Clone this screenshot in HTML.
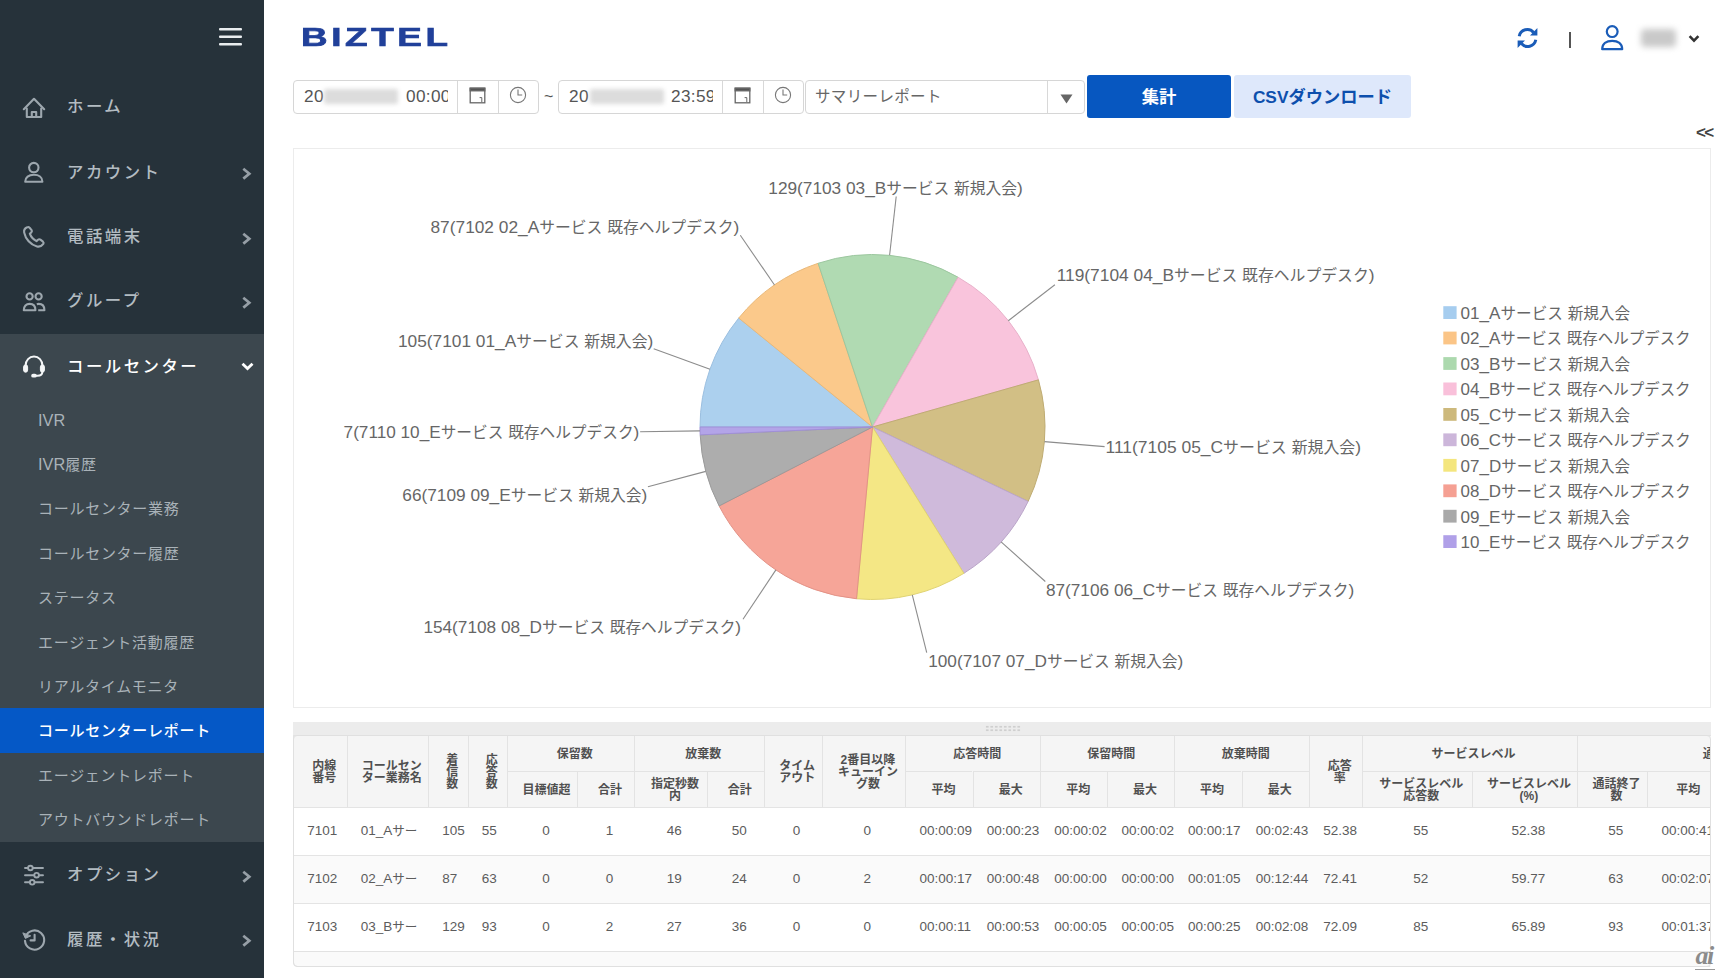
<!DOCTYPE html>
<html lang="ja">
<head>
<meta charset="utf-8">
<title>BIZTEL</title>
<style>
*{box-sizing:border-box;margin:0;padding:0}
html,body{width:1724px;height:978px;overflow:hidden;background:#fff}
body{font-family:"Liberation Sans","Noto Sans CJK JP",sans-serif;color:#555;position:relative}
.abs{position:absolute}
/* ---------- sidebar ---------- */
#side{position:absolute;left:0;top:0;width:264px;height:978px;background:#26323a}
#side .sub-bg{position:absolute;left:0;top:333.6px;width:264px;height:508px;background:#3c474e}
#side .active-bg{position:absolute;left:0;top:708px;width:264px;height:44.6px;background:#0558c6}
.mi{position:absolute;left:67px;height:30px;line-height:30px;font-size:16.4px;color:#b3bcc2;letter-spacing:2.5px;white-space:nowrap;font-weight:500;margin-top:2px}
.mi.on{color:#fff}
.si{position:absolute;left:38px;height:30px;line-height:30px;font-size:15px;color:#a9b2b8;white-space:nowrap;letter-spacing:.72px;margin-top:2px}
.si b{font-weight:inherit;font-size:16.3px;letter-spacing:0}
.si.on{color:#fff;font-weight:500}
.ico{position:absolute;left:22px;width:24px;height:24px}
.chev{position:absolute;left:240px;width:12px;height:13px;overflow:visible}
/* ---------- header ---------- */
#logo{position:absolute;left:300.5px;top:20.7px;height:32px;line-height:32px;font-size:26.3px;font-weight:700;color:#21409a;-webkit-text-stroke:.7px #21409a;letter-spacing:2.6px;transform-origin:0 50%;transform:scaleX(1.4);white-space:nowrap}
/* ---------- toolbar ---------- */
.grp{position:absolute;top:80px;height:34px;border:1px solid #d6d6d6;border-radius:4px;background:#fff}
.grp .sep{position:absolute;top:0;width:1px;height:32px;background:#d8d8d8}
.txt{position:absolute;top:0;height:32px;line-height:31.6px;font-size:17.2px;letter-spacing:.35px;color:#555;white-space:nowrap}
.blur{position:absolute;top:8px;height:15px;background:#dcdcdc;filter:blur(2px);border-radius:2px}
.clip{overflow:hidden}
.btn{position:absolute;top:75px;height:43px;line-height:44.6px;text-align:center;font-size:17.3px;font-weight:700;border-radius:3px;white-space:nowrap}

/* ---------- grid ---------- */
#grid{position:absolute;left:293px;top:722px;width:1418px;height:246px;overflow:hidden;border-radius:0 0 4px 4px}
#grid .split{position:absolute;left:0;top:0;width:1418px;height:13px;background:#ececec}
#grid .split i{position:absolute;left:692px;top:3px;width:36px;height:7px;background-image:radial-gradient(circle,#cfcfcf 1px,transparent 1.3px);background-size:4.5px 3.5px}
#grid .hbg{position:absolute;left:0;width:1418px;background:#f5f5f5;border-left:1px solid #e2e2e2}
.hc{position:absolute;display:flex;align-items:center;justify-content:center;padding:0 7px 0 15px;border-left:1px solid #e3e3e3;border-top:1px solid #e3e3e3;font-size:12px;line-height:12px;font-weight:700;color:#505050;text-align:center;white-space:nowrap;overflow:hidden}
.hc span{display:block}
.row{position:absolute;left:0;width:1418px;background:#fff;border-top:1px solid #e4e4e4;border-left:1px solid #e2e2e2}
.row.alt{background:#fafafa}
.dc{position:absolute;display:flex;align-items:center;padding:0 6.4px 0 14.2px;font-size:13.5px;line-height:16px;color:#5c5c5c;white-space:nowrap;overflow:hidden}
.dc span{display:block;flex:1 1 0;min-width:0;text-align:center}
.dc.l span{text-align:left}
.dc i{font-style:normal;font-size:12.6px}
.foot{position:absolute;left:0;width:1418px;background:#fafafa;border:1px solid #e2e2e2;border-right:0;border-radius:0 0 0 5px}
#grid .frame{position:absolute;left:0;top:12.8px;width:1418px;height:232.6px;border:1px solid #e0e0e0;border-radius:4px;pointer-events:none}
</style>
</head>
<body>
<div id="side">
  <div class="sub-bg"></div>
  <div class="active-bg"></div>
  <!-- hamburger -->
  <svg class="abs" style="left:219px;top:28px" width="23" height="18" viewBox="0 0 23 18"><g fill="#e9edef"><rect x="0" y="0" width="23" height="2.6" rx="1"/><rect x="0" y="7.5" width="23" height="2.6" rx="1"/><rect x="0" y="15" width="23" height="2.6" rx="1"/></g></svg>

  <!-- home -->
  <svg class="abs" style="left:22px;top:96px" width="24" height="24" viewBox="0 0 24 24" fill="none" stroke="#9da7ae" stroke-width="2.1" stroke-linejoin="round" stroke-linecap="round"><path d="M1.8 13.2L12 2.8l10.2 10.4"/><path d="M4.8 12.6v8.4h14.4v-8.4"/><path d="M9.8 21v-5h4.4v5"/></svg>
  <!-- user -->
  <svg class="abs" style="left:22px;top:160px" width="24" height="24" viewBox="0 0 24 24" fill="none" stroke="#9da7ae" stroke-width="2.1" stroke-linejoin="round"><circle cx="11.8" cy="7.6" r="4.7"/><path d="M3.2 21.8c0-4.6 3.6-7 8.6-7s8.6 2.4 8.6 7z"/></svg>
  <!-- phone -->
  <svg class="abs" style="left:22px;top:225px" width="24" height="24" viewBox="0 0 24 24" fill="none" stroke="#9da7ae" stroke-width="2.1" stroke-linejoin="round" stroke-linecap="round"><path d="M5.2 2.3C3 3.2 1.7 5 2.2 7.600c1.300 6.400 6.300 12.200 12.800 13.900 2.600.600 4.700-.400 6.300-2.600.500-.800.400-1.600-.300-2.200l-2.600-2c-.800-.600-1.700-.500-2.400.100l-1.500 1.300c-3.200-1.500-5.500-4.100-6.700-7.400L9.300 7.400c.700-.700.800-1.500.300-2.300L7.600 2.800c-.6-.8-1.500-1-2.400-.5z"/></svg>
  <!-- group -->
  <svg class="abs" style="left:22px;top:290px" width="24" height="24" viewBox="0 0 24 24" fill="none" stroke="#9da7ae" stroke-width="2.1" stroke-linejoin="round"><circle cx="7.600" cy="6.400" r="3.100"/><circle cx="16.600" cy="6.400" r="3.100"/><path d="M1.800 20.200c0-4 2.400-6.300 5.800-6.300s5.800 2.300 5.800 6.300z"/><path d="M14.800 14.200c.6-.2 1.200-.3 1.800-.3 3.400 0 5.800 2.300 5.800 6.300h-6.200"/></svg>
  <!-- headset -->
  <svg class="abs" style="left:22px;top:354px" width="24" height="25" viewBox="0 0 24 25" fill="none" stroke="#f4f6f7" stroke-width="2" stroke-linecap="round" stroke-linejoin="round"><path d="M3.600 14V11.500C3.600 6.300 7.300 2.600 12 2.600s8.400 3.700 8.400 8.900V14"/><rect x="1.600" y="10.800" width="4" height="7.400" rx="2" fill="#f4f6f7" stroke-width="1"/><rect x="18.400" y="10.800" width="4" height="7.400" rx="2" fill="#f4f6f7" stroke-width="1"/><path d="M20.400 17.500c0 2.600-2 4.300-5 4.300h-2.400"/><rect x="9.200" y="19.800" width="5.600" height="3.800" rx="1.900" fill="#f4f6f7" stroke="none"/></svg>
  <!-- sliders -->
  <svg class="abs" style="left:22px;top:863px" width="24" height="24" viewBox="0 0 24 24" fill="none" stroke="#9da7ae" stroke-width="1.9" stroke-linecap="round"><path d="M3 5H21M3 12.200H21M3 19.300H21"/><g fill="#26323a"><circle cx="8.400" cy="5" r="2.300"/><circle cx="14.600" cy="12.200" r="2.300"/><circle cx="10.200" cy="19.300" r="2.300"/></g></svg>
  <!-- history -->
  <svg class="abs" style="left:22px;top:928px" width="24" height="24" viewBox="0 0 24 24" fill="none" stroke="#9da7ae" stroke-width="2.1" stroke-linecap="round" stroke-linejoin="round"><path d="M3.600 8.600A9.600 9.600 0 1 1 3 12.900"/><path d="M1 5.200L3.400 10.400 8.400 8z" fill="#9da7ae" stroke-width="1"/><path d="M12.600 6.800v5.600h-4"/></svg>

  <div class="mi" style="top:89.3px">ホーム</div>
  <div class="mi" style="top:154.6px">アカウント</div>
  <div class="mi" style="top:218.6px">電話端末</div>
  <div class="mi" style="top:283.2px">グループ</div>
  <div class="mi on" style="top:349px">コールセンター</div>
  <svg class="chev" style="top:167px" viewBox="0 0 12 13"><path d="M3.3 1.800L9.300 6.700 3.300 11.600" fill="none" stroke="#969fa6" stroke-width="2.700"/></svg>
  <svg class="chev" style="top:232px" viewBox="0 0 12 13"><path d="M3.3 1.800L9.300 6.700 3.300 11.600" fill="none" stroke="#969fa6" stroke-width="2.700"/></svg>
  <svg class="chev" style="top:296px" viewBox="0 0 12 13"><path d="M3.3 1.800L9.300 6.700 3.300 11.600" fill="none" stroke="#969fa6" stroke-width="2.700"/></svg>
  <svg class="chev" style="top:360px;left:241px;width:13px" viewBox="0 0 13 12"><path d="M1.500 3.200L6.500 8 11.500 3.200" fill="none" stroke="#fff" stroke-width="2.800"/></svg>
  <svg class="chev" style="top:870px" viewBox="0 0 12 13"><path d="M3.3 1.800L9.300 6.700 3.300 11.600" fill="none" stroke="#969fa6" stroke-width="2.700"/></svg>
  <svg class="chev" style="top:934px" viewBox="0 0 12 13"><path d="M3.3 1.800L9.300 6.700 3.300 11.600" fill="none" stroke="#969fa6" stroke-width="2.700"/></svg>

  <div class="si" style="top:402.8px"><b>IVR</b></div>
  <div class="si" style="top:446.6px"><b>IVR</b>履歴</div>
  <div class="si" style="top:492px">コールセンター業務</div>
  <div class="si" style="top:537px">コールセンター履歴</div>
  <div class="si" style="top:581px">ステータス</div>
  <div class="si" style="top:626px">エージェント活動履歴</div>
  <div class="si" style="top:670px">リアルタイムモニタ</div>
  <div class="si on" style="top:714px">コールセンターレポート</div>
  <div class="si" style="top:759px">エージェントレポート</div>
  <div class="si" style="top:803px">アウトバウンドレポート</div>
  <div class="mi" style="top:856.8px">オプション</div>
  <div class="mi" style="top:921.8px">履歴・状況</div>
</div>

<div id="logo">BIZTEL</div>

<!-- header right -->
<svg class="abs" style="left:1516px;top:27px" width="23" height="22" viewBox="0 0 23 22" fill="none" stroke="#1a5cb8" stroke-width="3" stroke-linecap="butt"><path d="M3.200 9.200A8.300 8.300 0 0 1 17.600 5.400"/><path d="M19.800 12.800A8.300 8.300 0 0 1 5.400 16.600"/><path d="M21.400 1v7.400h-7.400z" fill="#1a5cb8" stroke="none"/><path d="M1.600 21v-7.400h7.400z" fill="#1a5cb8" stroke="none"/></svg>
<div class="abs" style="left:1569px;top:32px;width:1.500px;height:15.500px;background:#555"></div>
<svg class="abs" style="left:1600px;top:24px" width="25" height="27" viewBox="0 0 25 27" fill="none" stroke="#1a5cb8" stroke-width="2.200" stroke-linejoin="round"><circle cx="12.200" cy="7.600" r="5.400"/><path d="M2.200 25.200c0-5.600 4.200-8.400 10-8.400s10 2.800 10 8.400z"/></svg>
<div class="abs" style="left:1641px;top:29px;width:35px;height:18px;background:#c9c9c9;border-radius:4px;filter:blur(3px)"></div>
<svg class="abs" style="left:1688px;top:34px" width="12" height="10" viewBox="0 0 12 10"><path d="M1.600 2.200L6 6.600 10.400 2.200" fill="none" stroke="#333" stroke-width="2.600"/></svg>

<!-- toolbar -->
<div class="grp" style="left:293px;width:246px">
  <div class="txt" style="left:10px">20</div><div class="blur" style="left:30px;width:74px"></div><div class="txt clip" style="left:112px;width:41.5px">00:00</div>
  <div class="sep" style="left:163px"></div><div class="sep" style="left:204px"></div>
  <svg class="abs" style="left:175px;top:6px" width="17" height="17" viewBox="0 0 17 17" fill="none" stroke="#666" stroke-width="1.300"><rect x="1.200" y="1.200" width="14.600" height="14.600"/><rect x="1.200" y="1.200" width="14.600" height="2.600" fill="#555"/><path d="M10.600 10.600h2.200v4.400" stroke-width="1"/></svg>
  <svg class="abs" style="left:215px;top:5px" width="18" height="18" viewBox="0 0 18 18" fill="none" stroke="#777" stroke-width="1.100"><circle cx="9" cy="9" r="7.600"/><path d="M9 3.600V9h4.200"/></svg>
</div>
<div class="txt abs" style="left:544px;top:81.2px;font-size:16px">~</div>
<div class="grp" style="left:558px;width:246px">
  <div class="txt" style="left:10px">20</div><div class="blur" style="left:31px;width:74px"></div><div class="txt clip" style="left:112px;width:41.5px">23:59</div>
  <div class="sep" style="left:163px"></div><div class="sep" style="left:204px"></div>
  <svg class="abs" style="left:175px;top:6px" width="17" height="17" viewBox="0 0 17 17" fill="none" stroke="#666" stroke-width="1.300"><rect x="1.200" y="1.200" width="14.600" height="14.600"/><rect x="1.200" y="1.200" width="14.600" height="2.600" fill="#555"/><path d="M10.600 10.600h2.200v4.400" stroke-width="1"/></svg>
  <svg class="abs" style="left:215px;top:5px" width="18" height="18" viewBox="0 0 18 18" fill="none" stroke="#777" stroke-width="1.100"><circle cx="9" cy="9" r="7.600"/><path d="M9 3.600V9h4.200"/></svg>
</div>
<div class="grp" style="left:805px;width:280px">
  <div class="txt" style="left:9px;font-size:15.500px;color:#666">サマリーレポート</div>
  <div class="sep" style="left:241px"></div>
  <svg class="abs" style="left:254px;top:13px" width="13" height="10" viewBox="0 0 13 10"><path d="M0.500 0.500h12L6.500 9.500z" fill="#666"/></svg>
</div>
<div class="btn" style="left:1087px;width:144px;background:#0757c0;color:#fff">集計</div>
<div class="btn" style="left:1234px;width:177px;background:#dee8fb;color:#0d4fad">CSVダウンロード</div>
<div class="abs" style="left:1696px;top:123.3px;font-size:17px;font-weight:700;color:#444;letter-spacing:-1.8px;line-height:20px">&lt;&lt;</div>

<!-- chart panel -->
<div id="chart" class="abs" style="left:293px;top:148px;width:1418px;height:560px;border:1px solid #ececec;background:#fff"></div>

<!--CHART-->
<svg class="abs" style="left:294px;top:149px" width="1417" height="558" viewBox="294 149 1417 558" font-family="'Liberation Sans','Noto Sans CJK JP',sans-serif">
<path d="M872.5 427.0L700.00 427.00A172.5 172.5 0 0 1 738.77 318.04Z" fill="#acd0ee" stroke="#9bbfe0" stroke-width="1" stroke-linejoin="round"/>
<path d="M872.5 427.0L738.77 318.04A172.5 172.5 0 0 1 818.13 263.29Z" fill="#fbc98b" stroke="#e9b878" stroke-width="1" stroke-linejoin="round"/>
<path d="M872.5 427.0L818.13 263.29A172.5 172.5 0 0 1 958.10 277.24Z" fill="#b0dab2" stroke="#9cc79f" stroke-width="1" stroke-linejoin="round"/>
<path d="M872.5 427.0L958.10 277.24A172.5 172.5 0 0 1 1038.44 379.87Z" fill="#f9c4dc" stroke="#e8b1ca" stroke-width="1" stroke-linejoin="round"/>
<path d="M872.5 427.0L1038.44 379.87A172.5 172.5 0 0 1 1028.13 501.41Z" fill="#d2bf85" stroke="#bfac73" stroke-width="1" stroke-linejoin="round"/>
<path d="M872.5 427.0L1028.13 501.41A172.5 172.5 0 0 1 963.88 573.30Z" fill="#cfbadb" stroke="#bba6c9" stroke-width="1" stroke-linejoin="round"/>
<path d="M872.5 427.0L963.88 573.30A172.5 172.5 0 0 1 856.52 598.76Z" fill="#f4e785" stroke="#e0d372" stroke-width="1" stroke-linejoin="round"/>
<path d="M872.5 427.0L856.52 598.76A172.5 172.5 0 0 1 719.12 505.94Z" fill="#f6a598" stroke="#e39286" stroke-width="1" stroke-linejoin="round"/>
<path d="M872.5 427.0L719.12 505.94A172.5 172.5 0 0 1 700.18 434.86Z" fill="#adadad" stroke="#9a9a9a" stroke-width="1" stroke-linejoin="round"/>
<path d="M872.5 427.0L700.18 434.86A172.5 172.5 0 0 1 700.00 427.00Z" fill="#b3a4e8" stroke="#a08fd8" stroke-width="1" stroke-linejoin="round"/>
<g stroke="#8c8c8c" stroke-width="1.1" fill="none">
<path d="M710.0 369.2L653.7 348.8"/>
<path d="M774.5 285.0L740.3 235.3"/>
<path d="M889.6 255.3L896.2 196.5"/>
<path d="M1008.3 320.7L1054.9 284.8"/>
<path d="M1044.4 441.6L1104.6 446.6"/>
<path d="M1001.1 541.9L1045.3 581.5"/>
<path d="M912.3 594.8L926.7 652.7"/>
<path d="M775.9 569.9L743.0 619.3"/>
<path d="M705.8 471.4L647.9 486.7"/>
<path d="M700.0 430.9L640.1 431.8"/>
</g>
<g fill="#666" font-size="16.5">
<text x="397.9" y="346.7" textLength="255.3" lengthAdjust="spacingAndGlyphs"><tspan font-size="17.2">105(7101 01_A</tspan><tspan font-size="15.7">サービス</tspan><tspan font-size="17.2"> </tspan><tspan font-size="15.7">新規入会</tspan><tspan font-size="17.2">)</tspan></text>
<text x="430.5" y="233.4" textLength="308.8" lengthAdjust="spacingAndGlyphs"><tspan font-size="17.2">87(7102 02_A</tspan><tspan font-size="15.7">サービス</tspan><tspan font-size="17.2"> </tspan><tspan font-size="15.7">既存ヘルプデスク</tspan><tspan font-size="17.2">)</tspan></text>
<text x="768.3" y="193.9" textLength="254.5" lengthAdjust="spacingAndGlyphs"><tspan font-size="17.2">129(7103 03_B</tspan><tspan font-size="15.7">サービス</tspan><tspan font-size="17.2"> </tspan><tspan font-size="15.7">新規入会</tspan><tspan font-size="17.2">)</tspan></text>
<text x="1056.7" y="280.6" textLength="317.8" lengthAdjust="spacingAndGlyphs"><tspan font-size="17.2">119(7104 04_B</tspan><tspan font-size="15.7">サービス</tspan><tspan font-size="17.2"> </tspan><tspan font-size="15.7">既存ヘルプデスク</tspan><tspan font-size="17.2">)</tspan></text>
<text x="1105.5" y="452.5" textLength="255.6" lengthAdjust="spacingAndGlyphs"><tspan font-size="17.2">111(7105 05_C</tspan><tspan font-size="15.7">サービス</tspan><tspan font-size="17.2"> </tspan><tspan font-size="15.7">新規入会</tspan><tspan font-size="17.2">)</tspan></text>
<text x="1045.9" y="595.7" textLength="308.4" lengthAdjust="spacingAndGlyphs"><tspan font-size="17.2">87(7106 06_C</tspan><tspan font-size="15.7">サービス</tspan><tspan font-size="17.2"> </tspan><tspan font-size="15.7">既存ヘルプデスク</tspan><tspan font-size="17.2">)</tspan></text>
<text x="928.2" y="666.9" textLength="255.0" lengthAdjust="spacingAndGlyphs"><tspan font-size="17.2">100(7107 07_D</tspan><tspan font-size="15.7">サービス</tspan><tspan font-size="17.2"> </tspan><tspan font-size="15.7">新規入会</tspan><tspan font-size="17.2">)</tspan></text>
<text x="423.4" y="633.1" textLength="317.7" lengthAdjust="spacingAndGlyphs"><tspan font-size="17.2">154(7108 08_D</tspan><tspan font-size="15.7">サービス</tspan><tspan font-size="17.2"> </tspan><tspan font-size="15.7">既存ヘルプデスク</tspan><tspan font-size="17.2">)</tspan></text>
<text x="402.3" y="500.5" textLength="244.9" lengthAdjust="spacingAndGlyphs"><tspan font-size="17.2">66(7109 09_E</tspan><tspan font-size="15.7">サービス</tspan><tspan font-size="17.2"> </tspan><tspan font-size="15.7">新規入会</tspan><tspan font-size="17.2">)</tspan></text>
<text x="343.6" y="437.8" textLength="295.7" lengthAdjust="spacingAndGlyphs"><tspan font-size="17.2">7(7110 10_E</tspan><tspan font-size="15.7">サービス</tspan><tspan font-size="17.2"> </tspan><tspan font-size="15.7">既存ヘルプデスク</tspan><tspan font-size="17.2">)</tspan></text>
</g>
<g fill="#666" font-size="16.5">
<rect x="1443.3" y="306.2" width="13.3" height="12.8" fill="#a6cdef"/>
<text x="1460.6" y="318.9" textLength="169.4" lengthAdjust="spacingAndGlyphs"><tspan font-size="17.2">01_A</tspan><tspan font-size="15.7">サービス</tspan><tspan font-size="17.2"> </tspan><tspan font-size="15.7">新規入会</tspan></text>
<rect x="1443.3" y="331.6" width="13.3" height="12.8" fill="#fbc587"/>
<text x="1460.6" y="344.3" textLength="230" lengthAdjust="spacingAndGlyphs"><tspan font-size="17.2">02_A</tspan><tspan font-size="15.7">サービス</tspan><tspan font-size="17.2"> </tspan><tspan font-size="15.7">既存ヘルプデスク</tspan></text>
<rect x="1443.3" y="357.1" width="13.3" height="12.8" fill="#acd9ae"/>
<text x="1460.6" y="369.8" textLength="169.4" lengthAdjust="spacingAndGlyphs"><tspan font-size="17.2">03_B</tspan><tspan font-size="15.7">サービス</tspan><tspan font-size="17.2"> </tspan><tspan font-size="15.7">新規入会</tspan></text>
<rect x="1443.3" y="382.5" width="13.3" height="12.8" fill="#f9c0da"/>
<text x="1460.6" y="395.2" textLength="230" lengthAdjust="spacingAndGlyphs"><tspan font-size="17.2">04_B</tspan><tspan font-size="15.7">サービス</tspan><tspan font-size="17.2"> </tspan><tspan font-size="15.7">既存ヘルプデスク</tspan></text>
<rect x="1443.3" y="408.0" width="13.3" height="12.8" fill="#cdb97c"/>
<text x="1460.6" y="420.7" textLength="169.4" lengthAdjust="spacingAndGlyphs"><tspan font-size="17.2">05_C</tspan><tspan font-size="15.7">サービス</tspan><tspan font-size="17.2"> </tspan><tspan font-size="15.7">新規入会</tspan></text>
<rect x="1443.3" y="433.4" width="13.3" height="12.8" fill="#ccb6da"/>
<text x="1460.6" y="446.1" textLength="230" lengthAdjust="spacingAndGlyphs"><tspan font-size="17.2">06_C</tspan><tspan font-size="15.7">サービス</tspan><tspan font-size="17.2"> </tspan><tspan font-size="15.7">既存ヘルプデスク</tspan></text>
<rect x="1443.3" y="458.9" width="13.3" height="12.8" fill="#f4e67e"/>
<text x="1460.6" y="471.6" textLength="169.4" lengthAdjust="spacingAndGlyphs"><tspan font-size="17.2">07_D</tspan><tspan font-size="15.7">サービス</tspan><tspan font-size="17.2"> </tspan><tspan font-size="15.7">新規入会</tspan></text>
<rect x="1443.3" y="484.4" width="13.3" height="12.8" fill="#f5a093"/>
<text x="1460.6" y="497.1" textLength="230" lengthAdjust="spacingAndGlyphs"><tspan font-size="17.2">08_D</tspan><tspan font-size="15.7">サービス</tspan><tspan font-size="17.2"> </tspan><tspan font-size="15.7">既存ヘルプデスク</tspan></text>
<rect x="1443.3" y="509.8" width="13.3" height="12.8" fill="#a9a9a9"/>
<text x="1460.6" y="522.5" textLength="169.4" lengthAdjust="spacingAndGlyphs"><tspan font-size="17.2">09_E</tspan><tspan font-size="15.7">サービス</tspan><tspan font-size="17.2"> </tspan><tspan font-size="15.7">新規入会</tspan></text>
<rect x="1443.3" y="535.2" width="13.3" height="12.8" fill="#b0a0e8"/>
<text x="1460.6" y="548.0" textLength="230" lengthAdjust="spacingAndGlyphs"><tspan font-size="17.2">10_E</tspan><tspan font-size="15.7">サービス</tspan><tspan font-size="17.2"> </tspan><tspan font-size="15.7">既存ヘルプデスク</tspan></text>
</g>
</svg>
<!--/CHART-->
<!-- table -->
<div id="grid"><!--TABLE-->
<div class="split"><i></i></div>
<div class="hbg" style="top:12.8px;height:72.5px"></div>
<div class="hc" style="left:0.0px;top:12.8px;width:53.5px;height:72.5px;"><span>内線<br>番号</span></div>
<div class="hc" style="left:53.5px;top:12.8px;width:81.5px;height:72.5px;"><span>コールセン<br>ター業務名</span></div>
<div class="hc" style="left:135.0px;top:12.8px;width:39.6px;height:72.5px;"><span>着<br>信<br>数</span></div>
<div class="hc" style="left:174.6px;top:12.8px;width:39.2px;height:72.5px;"><span>応<br>答<br>数</span></div>
<div class="hc" style="left:470.7px;top:12.8px;width:57.9px;height:72.5px;"><span>タイム<br>アウト</span></div>
<div class="hc" style="left:528.6px;top:12.8px;width:83.7px;height:72.5px;"><span>2番目以降<br>キューイン<br>グ数</span></div>
<div class="hc" style="left:1016.0px;top:12.8px;width:52.5px;height:72.5px;"><span>応答<br>率</span></div>
<div class="hc" style="left:213.8px;top:12.8px;width:127.1px;height:36.6px;"><span>保留数</span></div>
<div class="hc" style="left:340.9px;top:12.8px;width:129.8px;height:36.6px;"><span>放棄数</span></div>
<div class="hc" style="left:612.3px;top:12.8px;width:134.7px;height:36.6px;"><span>応答時間</span></div>
<div class="hc" style="left:747.0px;top:12.8px;width:133.7px;height:36.6px;"><span>保留時間</span></div>
<div class="hc" style="left:880.7px;top:12.8px;width:135.3px;height:36.6px;"><span>放棄時間</span></div>
<div class="hc" style="left:1068.5px;top:12.8px;width:215.2px;height:36.6px;"><span>サービスレベル</span></div>
<div class="hc sub" style="left:213.8px;top:49.4px;width:70.4px;height:35.9px;"><span>目標値超</span></div>
<div class="hc sub" style="left:284.2px;top:49.4px;width:56.7px;height:35.9px;"><span>合計</span></div>
<div class="hc sub" style="left:340.9px;top:49.4px;width:73.0px;height:35.9px;"><span>指定秒数<br>内</span></div>
<div class="hc sub" style="left:413.9px;top:49.4px;width:56.8px;height:35.9px;"><span>合計</span></div>
<div class="hc sub" style="left:612.3px;top:49.4px;width:67.2px;height:35.9px;"><span>平均</span></div>
<div class="hc sub" style="left:679.5px;top:49.4px;width:67.5px;height:35.9px;"><span>最大</span></div>
<div class="hc sub" style="left:747.0px;top:49.4px;width:67.3px;height:35.9px;"><span>平均</span></div>
<div class="hc sub" style="left:814.3px;top:49.4px;width:66.4px;height:35.9px;"><span>最大</span></div>
<div class="hc sub" style="left:880.7px;top:49.4px;width:67.8px;height:35.9px;"><span>平均</span></div>
<div class="hc sub" style="left:948.5px;top:49.4px;width:67.5px;height:35.9px;"><span>最大</span></div>
<div class="hc sub" style="left:1068.5px;top:49.4px;width:110.7px;height:35.9px;"><span>サービスレベル<br>応答数</span></div>
<div class="hc sub" style="left:1179.2px;top:49.4px;width:104.5px;height:35.9px;"><span>サービスレベル<br>(%)</span></div>
<div class="hc sub" style="left:1283.7px;top:49.4px;width:70.6px;height:35.9px;"><span>通話終了<br>数</span></div>
<div class="hc sub" style="left:1354.3px;top:49.4px;width:72.7px;height:35.9px;"><span>平均</span></div>
<div class="hc" style="left:1283.7px;top:12.8px;width:291.3px;height:36.6px;"><span>通話時間</span></div>
<div class="row" style="top:85.3px;height:48.0px"></div>
<div class="dc l" style="left:0.0px;top:85.3px;width:53.5px;height:48.0px;"><span>7101</span></div>
<div class="dc l" style="left:53.5px;top:85.3px;width:81.5px;height:48.0px;"><span>01_A<i>サー</i></span></div>
<div class="dc l" style="left:135.0px;top:85.3px;width:39.6px;height:48.0px;"><span>105</span></div>
<div class="dc l" style="left:174.6px;top:85.3px;width:39.2px;height:48.0px;"><span>55</span></div>
<div class="dc" style="left:213.8px;top:85.3px;width:70.4px;height:48.0px;"><span>0</span></div>
<div class="dc" style="left:284.2px;top:85.3px;width:56.7px;height:48.0px;"><span>1</span></div>
<div class="dc" style="left:340.9px;top:85.3px;width:73.0px;height:48.0px;"><span>46</span></div>
<div class="dc" style="left:413.9px;top:85.3px;width:56.8px;height:48.0px;"><span>50</span></div>
<div class="dc" style="left:470.7px;top:85.3px;width:57.9px;height:48.0px;"><span>0</span></div>
<div class="dc" style="left:528.6px;top:85.3px;width:83.7px;height:48.0px;"><span>0</span></div>
<div class="dc" style="left:612.3px;top:85.3px;width:67.2px;height:48.0px;"><span>00:00:09</span></div>
<div class="dc" style="left:679.5px;top:85.3px;width:67.5px;height:48.0px;"><span>00:00:23</span></div>
<div class="dc" style="left:747.0px;top:85.3px;width:67.3px;height:48.0px;"><span>00:00:02</span></div>
<div class="dc" style="left:814.3px;top:85.3px;width:66.4px;height:48.0px;"><span>00:00:02</span></div>
<div class="dc" style="left:880.7px;top:85.3px;width:67.8px;height:48.0px;"><span>00:00:17</span></div>
<div class="dc" style="left:948.5px;top:85.3px;width:67.5px;height:48.0px;"><span>00:02:43</span></div>
<div class="dc" style="left:1016.0px;top:85.3px;width:52.5px;height:48.0px;"><span>52.38</span></div>
<div class="dc" style="left:1068.5px;top:85.3px;width:110.7px;height:48.0px;"><span>55</span></div>
<div class="dc" style="left:1179.2px;top:85.3px;width:104.5px;height:48.0px;"><span>52.38</span></div>
<div class="dc" style="left:1283.7px;top:85.3px;width:70.6px;height:48.0px;"><span>55</span></div>
<div class="dc" style="left:1354.3px;top:85.3px;width:72.7px;height:48.0px;"><span>00:00:41</span></div>
<div class="row alt" style="top:133.3px;height:47.4px"></div>
<div class="dc l" style="left:0.0px;top:133.3px;width:53.5px;height:47.4px;"><span>7102</span></div>
<div class="dc l" style="left:53.5px;top:133.3px;width:81.5px;height:47.4px;"><span>02_A<i>サー</i></span></div>
<div class="dc l" style="left:135.0px;top:133.3px;width:39.6px;height:47.4px;"><span>87</span></div>
<div class="dc l" style="left:174.6px;top:133.3px;width:39.2px;height:47.4px;"><span>63</span></div>
<div class="dc" style="left:213.8px;top:133.3px;width:70.4px;height:47.4px;"><span>0</span></div>
<div class="dc" style="left:284.2px;top:133.3px;width:56.7px;height:47.4px;"><span>0</span></div>
<div class="dc" style="left:340.9px;top:133.3px;width:73.0px;height:47.4px;"><span>19</span></div>
<div class="dc" style="left:413.9px;top:133.3px;width:56.8px;height:47.4px;"><span>24</span></div>
<div class="dc" style="left:470.7px;top:133.3px;width:57.9px;height:47.4px;"><span>0</span></div>
<div class="dc" style="left:528.6px;top:133.3px;width:83.7px;height:47.4px;"><span>2</span></div>
<div class="dc" style="left:612.3px;top:133.3px;width:67.2px;height:47.4px;"><span>00:00:17</span></div>
<div class="dc" style="left:679.5px;top:133.3px;width:67.5px;height:47.4px;"><span>00:00:48</span></div>
<div class="dc" style="left:747.0px;top:133.3px;width:67.3px;height:47.4px;"><span>00:00:00</span></div>
<div class="dc" style="left:814.3px;top:133.3px;width:66.4px;height:47.4px;"><span>00:00:00</span></div>
<div class="dc" style="left:880.7px;top:133.3px;width:67.8px;height:47.4px;"><span>00:01:05</span></div>
<div class="dc" style="left:948.5px;top:133.3px;width:67.5px;height:47.4px;"><span>00:12:44</span></div>
<div class="dc" style="left:1016.0px;top:133.3px;width:52.5px;height:47.4px;"><span>72.41</span></div>
<div class="dc" style="left:1068.5px;top:133.3px;width:110.7px;height:47.4px;"><span>52</span></div>
<div class="dc" style="left:1179.2px;top:133.3px;width:104.5px;height:47.4px;"><span>59.77</span></div>
<div class="dc" style="left:1283.7px;top:133.3px;width:70.6px;height:47.4px;"><span>63</span></div>
<div class="dc" style="left:1354.3px;top:133.3px;width:72.7px;height:47.4px;"><span>00:02:07</span></div>
<div class="row" style="top:180.7px;height:48.1px"></div>
<div class="dc l" style="left:0.0px;top:180.7px;width:53.5px;height:48.1px;"><span>7103</span></div>
<div class="dc l" style="left:53.5px;top:180.7px;width:81.5px;height:48.1px;"><span>03_B<i>サー</i></span></div>
<div class="dc l" style="left:135.0px;top:180.7px;width:39.6px;height:48.1px;"><span>129</span></div>
<div class="dc l" style="left:174.6px;top:180.7px;width:39.2px;height:48.1px;"><span>93</span></div>
<div class="dc" style="left:213.8px;top:180.7px;width:70.4px;height:48.1px;"><span>0</span></div>
<div class="dc" style="left:284.2px;top:180.7px;width:56.7px;height:48.1px;"><span>2</span></div>
<div class="dc" style="left:340.9px;top:180.7px;width:73.0px;height:48.1px;"><span>27</span></div>
<div class="dc" style="left:413.9px;top:180.7px;width:56.8px;height:48.1px;"><span>36</span></div>
<div class="dc" style="left:470.7px;top:180.7px;width:57.9px;height:48.1px;"><span>0</span></div>
<div class="dc" style="left:528.6px;top:180.7px;width:83.7px;height:48.1px;"><span>0</span></div>
<div class="dc" style="left:612.3px;top:180.7px;width:67.2px;height:48.1px;"><span>00:00:11</span></div>
<div class="dc" style="left:679.5px;top:180.7px;width:67.5px;height:48.1px;"><span>00:00:53</span></div>
<div class="dc" style="left:747.0px;top:180.7px;width:67.3px;height:48.1px;"><span>00:00:05</span></div>
<div class="dc" style="left:814.3px;top:180.7px;width:66.4px;height:48.1px;"><span>00:00:05</span></div>
<div class="dc" style="left:880.7px;top:180.7px;width:67.8px;height:48.1px;"><span>00:00:25</span></div>
<div class="dc" style="left:948.5px;top:180.7px;width:67.5px;height:48.1px;"><span>00:02:08</span></div>
<div class="dc" style="left:1016.0px;top:180.7px;width:52.5px;height:48.1px;"><span>72.09</span></div>
<div class="dc" style="left:1068.5px;top:180.7px;width:110.7px;height:48.1px;"><span>85</span></div>
<div class="dc" style="left:1179.2px;top:180.7px;width:104.5px;height:48.1px;"><span>65.89</span></div>
<div class="dc" style="left:1283.7px;top:180.7px;width:70.6px;height:48.1px;"><span>93</span></div>
<div class="dc" style="left:1354.3px;top:180.7px;width:72.7px;height:48.1px;"><span>00:01:37</span></div>
<div class="foot" style="top:228.8px;height:16.2px"></div>
<div class="frame"></div>
<!--/TABLE--></div>
<!-- watermark -->
<div class="abs" style="left:1695.5px;top:941px;width:28px;height:30px;line-height:30px;font-family:'Liberation Serif','DejaVu Serif',serif;font-style:italic;font-weight:700;font-size:26px;color:#8b8b8b;letter-spacing:-1.5px;white-space:nowrap">ai</div>
<div class="abs" style="left:1695px;top:968.6px;width:20px;height:1.4px;background:#9a9a9a"></div>
</body>
</html>
